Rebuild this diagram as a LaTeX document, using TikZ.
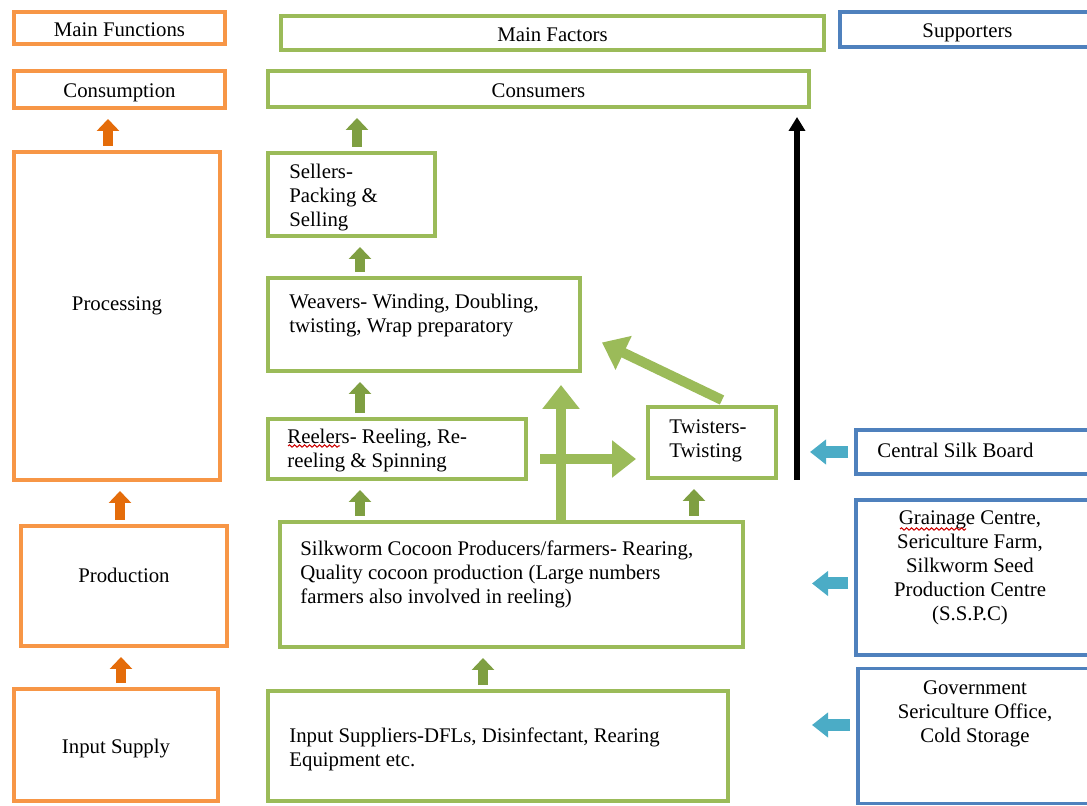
\documentclass[tikz,border=0pt]{standalone}
\usepackage{fontspec}
\setmainfont{Liberation Serif}
\usetikzlibrary{arrows.meta,decorations.pathmorphing}
\definecolor{orangebox}{HTML}{F79646}
\definecolor{orangearr}{HTML}{E46C0A}
\definecolor{greenbox}{HTML}{9BBB59}
\definecolor{greenarr}{HTML}{7F9F42}
\definecolor{bluebox}{HTML}{4F81BD}
\definecolor{bluearr}{HTML}{4BACC6}
\tikzset{
  lbl/.style={inner sep=0pt, font=\fontsize{10.4}{12}\selectfont},
  txt/.style={lbl, align=left, anchor=north west},
  box/.style={draw, line width=2pt, inner sep=0pt, text height=8.5pt, text depth=0pt,
    font=\fontsize{10.4}{12}\selectfont},
  obox/.style={box, draw=orangebox},
  gbox/.style={box, draw=greenbox},
  bbox/.style={box, draw=bluebox, line width=1.8pt},
  oarrow/.style={draw=orangearr, line width=5pt, -{Triangle[width=11pt,length=6pt]},
    shorten <=2pt, shorten >=4.5pt},
  garrow/.style={oarrow, draw=greenarr},
  bigarrow/.style={draw=greenbox, line width=5pt, -{Triangle[width=18pt,length=12pt]}},
  barrow/.style={draw=bluearr, line width=6pt, -{Triangle[width=12pt,length=8pt]}},
  karrow/.style={draw=black, line width=3pt, -{Triangle[width=8pt,length=7pt]}},
  squig/.style={draw=red!80!black, line width=0.5pt,
    decorate, decoration={snake, amplitude=0.6pt, segment length=2.5pt}}
}
\begin{document}
\begin{tikzpicture}[x=0.5pt, y=-0.5pt]
\useasboundingbox (0,0) rectangle (1087,806);
% main functions
\node[obox, minimum width=105.5pt, minimum height=16pt] (mfun) at (119.5,28) {Main Functions};
\node[obox, minimum width=105.5pt, minimum height=18.5pt] (cons) at (119.5,89.5) {Consumption};
\node[obox, minimum width=103pt, minimum height=164pt] (proc) at (117,316) {};
\node[obox, minimum width=103pt, minimum height=60pt] (prod) at (124,586) {};
\node[obox, minimum width=102pt, minimum height=56pt] (inp) at (116,745) {Input Supply};
\node[lbl] (procT) at (117,306) {Processing};
\node[lbl] (prodT) at (124,575) {Production};
% main factors
\node[gbox, minimum width=271.5pt, minimum height=17pt] (mfac) at (552.5,33) {Main Factors};
\node[gbox, minimum width=270.5pt, minimum height=18pt] (cust) at (538.5,89) {Consumers};
\node[gbox, minimum width=83.5pt, minimum height=41.5pt] (sell) at (351.5,194.5) {};
\node[gbox, minimum width=156pt, minimum height=46.5pt] (weav) at (424,324.5) {};
\node[gbox, minimum width=129pt, minimum height=30pt] (reel) at (397,449) {};
\node[gbox, minimum width=64pt, minimum height=35.5pt] (twist) at (712,442.5) {};
\node[gbox, minimum width=231.5pt, minimum height=62.5pt] (silk) at (511.5,584.5) {};
\node[gbox, minimum width=230pt, minimum height=55pt] (isup) at (498,746) {};
\node[txt] (sellT) at (289,164) {Sellers-\\Packing \&\\Selling};
\node[txt] (weavT) at (289,294) {Weavers- Winding, Doubling,\\twisting, Wrap preparatory};
\node[txt] (reelT) at (287,429) {Reelers- Reeling, Re-\\reeling \& Spinning};
\node[txt] (twistT) at (669,419) {Twisters-\\Twisting};
\node[txt] (silkT) at (300,540) {Silkworm Cocoon Producers/farmers- Rearing,\\Quality cocoon production (Large numbers\\farmers also involved in reeling)};
\node[txt] (isupT) at (289,727) {Input Suppliers-DFLs, Disinfectant, Rearing\\Equipment etc.};
% supporters
\node[bbox, minimum width=127.5pt, minimum height=17.5pt] (supp) at (967.5,29.5) {Supporters};
\node[bbox, minimum width=118.5pt, minimum height=22pt] (csb) at (974.5,452) {};
\node[bbox, minimum width=118.5pt, minimum height=77.5pt] (grain) at (974.5,577.5) {};
\node[bbox, minimum width=117.5pt, minimum height=67.5pt] (gov) at (975.5,736) {};
\node[lbl, anchor=west] (csbT) at (877,450) {Central Silk Board};
\node[lbl, anchor=north, align=center] (grainT) at (970,510) {Grainage Centre,\\Sericulture Farm,\\Silkworm Seed\\Production Centre\\(S.S.P.C)};
\node[lbl, anchor=north, align=center] (govT) at (975,680) {Government\\Sericulture Office,\\Cold Storage};
% spell-check marks
\draw[squig] (288,446) -- (340,446);
\draw[squig] (900,529) -- (966,529);
% arrows
\foreach \a/\b/\x in {proc/cons/108, prod/proc/120, inp/prod/121}
  \draw[oarrow] (\a.north -| \x,0) -- (\b.south -| \x,0);
\foreach \a/\b/\x in {sell/cust/357, weav/sell/360, reel/weav/360, silk/reel/360, isup/silk/483, silk/twist/694}
  \draw[garrow] (\a.north -| \x,0) -- (\b.south -| \x,0);
\draw[bigarrow, shorten >=6pt] (silk.north -| 561,0) -- (weav.south -| 561,0);
\draw[bigarrow, shorten <=6pt, shorten >=5pt] (reel.east |- 0,459) -- (twist.west |- 0,459);
\draw[bigarrow] ([xshift=5pt,yshift=2.5pt]twist.north) -- ([xshift=10pt,yshift=-9pt]weav.east);
\draw[karrow, shorten >=4pt] (twist.south -| 797,0) -- (cust.south -| 797,0);
\draw[barrow, shorten <=3pt, shorten >=6.5pt] (csb.west) -- (csb.west -| 797,0);
\draw[barrow, shorten <=3pt, shorten >=33.5pt] ([yshift=-3pt]grain.west) -- ([yshift=-3pt]grain.west -| silk.east);
\draw[barrow, shorten <=3pt, shorten >=41pt] ([yshift=5.5pt]gov.west) -- ([yshift=5.5pt]gov.west -| isup.east);
\end{tikzpicture}
\end{document}
